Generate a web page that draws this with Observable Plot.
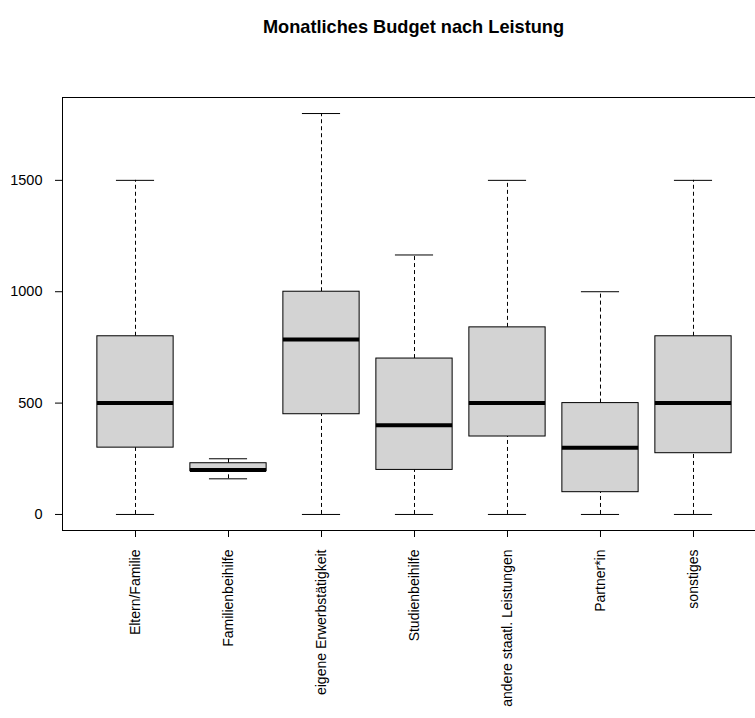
<!DOCTYPE html>
<html>
<head>
<meta charset="utf-8">
<script src="https://cdn.jsdelivr.net/npm/d3@7"></script>
<script src="https://cdn.jsdelivr.net/npm/@observablehq/plot@0.6"></script>
<style>
  html, body { margin: 0; padding: 0; background: #fff; overflow: hidden; }
  #wrap { position: relative; width: 755px; height: 718px; overflow: hidden; }
  #title { position: absolute; left: 0; width: 827px; top: 17px; text-align: center;
           font: bold 18.2px "Liberation Sans", Arial, sans-serif; color: #000; }
  #chart { position: absolute; left: 0; top: 0; width: 790px; }
  #chart svg { max-width: none !important; }
</style>
</head>
<body>
<div id="wrap">
  <div id="chart"></div>
  <div id="title">Monatliches Budget nach Leistung</div>
</div>
<script>
const categories = ["Eltern/Familie", "Familienbeihilfe", "eigene Erwerbstätigkeit", "Studienbeihilfe", "andere staatl. Leistungen", "Partner*in", "sonstiges"];
const lowerWhisker = [0, 160, 0, 0, 0, 0, 0];
const q1 = [300, 195, 450, 200, 350, 100, 275];
const median = [500, 200, 785, 400, 500, 300, 500];
const q3 = [800, 230, 1000, 700, 840, 500, 800];
const upperWhisker = [1500, 250, 1800, 1165, 1500, 1000, 1500];
const yTicks = [0, 500, 1000, 1500];

const data = categories.map((c, i) => ({
  cat: c, lo: lowerWhisker[i], q1: q1[i], med: median[i], q3: q3[i], hi: upperWhisker[i]
}));

const pInner = 0.18, pOuter = 0.375;
const bandwidth = (766 - 62) / (7 - pInner + 2 * pOuter) * (1 - pInner);
const capInset = bandwidth / 4;

const chart = Plot.plot({
  width: 790,
  height: 718,
  marginLeft: 62,
  marginRight: 24,
  marginTop: 97,
  marginBottom: 188,
  style: { fontFamily: "'Liberation Sans', Arial, sans-serif", fontSize: "14px", color: "#000", background: "#fff", maxWidth: "none" },
  x: { domain: categories, paddingInner: pInner, paddingOuter: pOuter, round: false, label: null },
  y: { domain: [-72, 1872], label: null },
  marks: [
    Plot.ruleX(data, { x: "cat", y1: "q3", y2: "hi", stroke: "#000", strokeWidth: 1, strokeDasharray: "4,3" }),
    Plot.ruleX(data, { x: "cat", y1: "lo", y2: "q1", stroke: "#000", strokeWidth: 1, strokeDasharray: "4,3" }),
    Plot.tickY(data, { x: "cat", y: "hi", stroke: "#000", strokeWidth: 1, insetLeft: capInset, insetRight: capInset }),
    Plot.tickY(data, { x: "cat", y: "lo", stroke: "#000", strokeWidth: 1, insetLeft: capInset, insetRight: capInset }),
    Plot.barY(data, { x: "cat", y1: "q1", y2: "q3", fill: "#d3d3d3", stroke: "#000", strokeWidth: 1, inset: 0 }),
    Plot.tickY(data, { x: "cat", y: "med", stroke: "#000", strokeWidth: 4 }),
    Plot.frame({ stroke: "#000", strokeWidth: 1 }),
    Plot.axisY({ ticks: yTicks, tickFormat: d => String(d), tickSize: 7, tickPadding: 13, fontSize: 14.5, label: null }),
    Plot.axisX({ tickSize: 7, tickRotate: -90, tickPadding: 12, fontSize: 14, label: null })
  ]
});
document.getElementById("chart").appendChild(chart);
</script>
</body>
</html>
